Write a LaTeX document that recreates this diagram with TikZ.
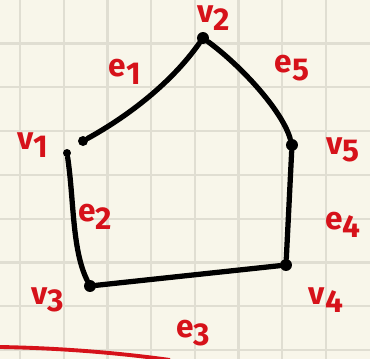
\documentclass[tikz,border=0pt]{standalone}
\usepackage{fontspec}
\newfontfamily\handfont{Fira Sans}
\usepackage{tikz}
\usetikzlibrary{positioning}
\definecolor{papier}{RGB}{248, 246, 234}
\definecolor{grille}{RGB}{224, 222, 210}
\definecolor{rougeStylo}{RGB}{214, 18, 26}
\newcommand{\lbl}[2]{#1\raisebox{-0.45ex}{#2}}

\begin{document}
\begin{tikzpicture}[
  x=0.02cm, y=-0.02cm,
  vertex/.style={circle, fill=black, inner sep=0pt, minimum size=0.24cm},
  tick/.style={circle, fill=black, inner sep=0pt, minimum size=0.16cm},
  edge/.style={line width=3pt, line cap=round, line join=round},
  tag/.style={text=rougeStylo, inner sep=0pt,
    font=\handfont\bfseries\fontsize{18}{19}\selectfont},
]
% papier quadrille
\fill[papier] (0, 0) rectangle (370, 359);
\useasboundingbox (0, 0) rectangle (370, 359);
\foreach \k in {0, ..., 7}
  \draw[grille, line width=1.3pt] ({20 + 43.7*\k}, 0) -- ++(0, 359);
\foreach \k in {0, ..., 7}
  \draw[grille, line width=1.3pt] (0, {43.5 + 43.8*\k}) -- ++(370, 0);

% sommets
\node[tick]   (v1) at ( 67, 153) {};
\node[vertex] (v2) at (203,  38) {};
\node[vertex] (v3) at ( 90, 286) {};
\node[vertex] (v4) at (286, 265) {};
\node[vertex] (v5) at (292, 145) {};
\node[vertex, minimum size=0.2cm] (e1start) at (83, 141) {};

% aretes
\draw[edge] (e1start) .. controls (130, 115) and (172, 82) .. (v2);
\draw[edge] (v2) .. controls (240, 65) and (282, 110) .. (v5);
\draw[edge] (v5) -- (v4);
\draw[edge] (v4) -- (v3);
\draw[edge] (v1) .. controls (74, 200) and (72, 250) .. (v3);

% etiquettes
\node[tag] (lv1) at ( 33, 145) {\lbl{v}{1}};
\node[tag] (lv2) at (214,  18) {\lbl{v}{2}};
\node[tag] (lv3) at ( 48, 300) {\lbl{v}{3}};
\node[tag] (lv4) at (326, 300) {\lbl{v}{4}};
\node[tag] (lv5) at (343, 150) {\lbl{v}{5}};
\node[tag] (le1) at (125,  72) {\lbl{e}{1}};
\node[tag] (le2) at ( 95, 217) {\lbl{e}{2}};
\node[tag] (le3) at (193, 333) {\lbl{e}{3}};
\node[tag] (le4) at (343, 225) {\lbl{e}{4}};
\node[tag] (le5) at (292,  68) {\lbl{e}{5}};

% trait rouge en bas
\draw[rougeStylo, line width=2.2pt] (0, 347) .. controls (60, 348) and (120, 353) .. (170, 360);
\end{tikzpicture}
\end{document}
